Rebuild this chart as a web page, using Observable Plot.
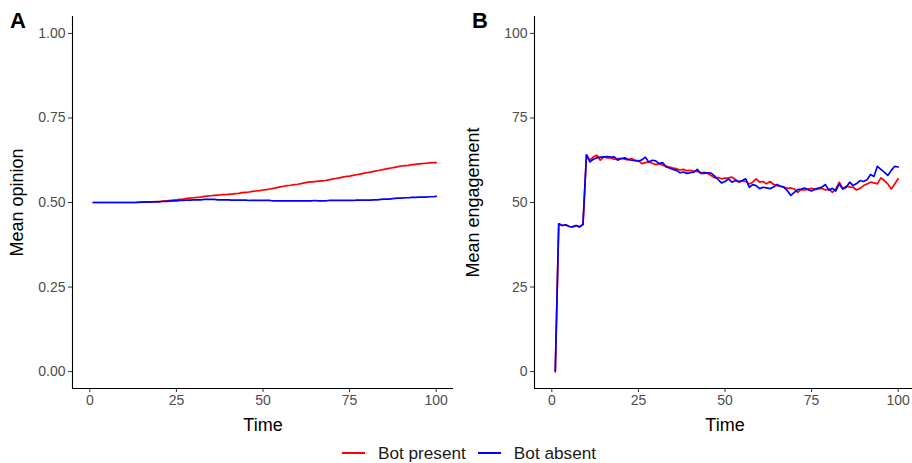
<!DOCTYPE html>
<html>
<head>
<meta charset="utf-8">
<script src="https://cdn.jsdelivr.net/npm/d3@7"></script>
<script src="https://cdn.jsdelivr.net/npm/@observablehq/plot@0.6"></script>
<style>
  html, body { margin:0; padding:0; background:#fff; overflow:hidden; }
  body { font-family: "Liberation Sans", Arial, sans-serif; }
  #wrap { position:relative; width:912px; height:463px; }
  #row { position:absolute; left:0; top:0; display:flex; width:915px; }
  .tag { position:absolute; font-weight:bold; font-size:22px; color:#000; top:8px; }
  #legend { position:absolute; left:13px; top:444px; width:912px; height:18px; line-height:17px; display:flex; justify-content:center; align-items:center; font-size:17.2px; color:#1a1a1a; }
  .sw { display:inline-block; width:23px; height:2px; margin:0 13px 0 0; }
  .item { display:flex; align-items:center; margin:0 6px; }
  svg g[aria-label="x-axis label"] text, svg g[aria-label="y-axis label"] text { font-size:18px; fill:#000; }
  svg g[aria-label="x-axis label"], svg g[aria-label="y-axis label"] { font-size:18px; fill:#000; }
</style>
</head>
<body>
<div id="wrap">
  <div id="row"></div>
  <div class="tag" style="left:10px">A</div>
  <div class="tag" style="left:472px">B</div>
  <div id="legend"></div>
</div>
<script>
// ---- data ----
const series = ["Bot present", "Bot absent"];
const colors = ["#ff0000", "#0000ff"];
const time = d3.range(1, 101);

const opinionPresent = [
  0.500,0.500,0.500,0.500,0.500,0.500,0.500,0.500,0.500,0.500,
  0.500,0.500,0.500,0.501,0.501,0.501,0.502,0.502,0.503,0.503,
  0.504,0.505,0.506,0.507,0.508,0.509,0.510,0.512,0.513,0.514,
  0.515,0.516,0.518,0.519,0.520,0.521,0.522,0.523,0.523,0.524,
  0.525,0.526,0.527,0.529,0.530,0.531,0.533,0.534,0.535,0.537,
  0.538,0.540,0.542,0.544,0.546,0.548,0.550,0.551,0.553,0.554,
  0.556,0.558,0.560,0.561,0.562,0.563,0.564,0.565,0.567,0.569,
  0.571,0.573,0.575,0.577,0.578,0.580,0.582,0.584,0.586,0.588,
  0.590,0.592,0.594,0.596,0.598,0.600,0.602,0.604,0.606,0.608,
  0.609,0.610,0.612,0.613,0.614,0.615,0.616,0.617,0.618,0.618
];
const opinionAbsent = [
  0.500,0.500,0.500,0.500,0.500,0.500,0.500,0.500,0.500,0.500,
  0.500,0.500,0.500,0.500,0.501,0.501,0.501,0.502,0.502,0.502,
  0.503,0.503,0.504,0.505,0.505,0.506,0.506,0.507,0.507,0.508,
  0.508,0.508,0.509,0.509,0.509,0.509,0.508,0.508,0.508,0.508,
  0.507,0.507,0.507,0.507,0.507,0.506,0.506,0.506,0.506,0.506,
  0.506,0.506,0.505,0.505,0.505,0.505,0.505,0.505,0.505,0.505,
  0.505,0.505,0.505,0.505,0.506,0.505,0.505,0.505,0.506,0.506,
  0.506,0.506,0.506,0.506,0.506,0.506,0.507,0.507,0.507,0.507,
  0.507,0.508,0.508,0.509,0.510,0.510,0.511,0.512,0.513,0.513,
  0.514,0.514,0.515,0.515,0.516,0.516,0.516,0.517,0.517,0.518
];
const engagementPresent = [
  0,43.7,43.2,43.4,42.9,42.8,43.2,42.8,43.5,64.1,
  62.5,63.5,64.0,62.5,63.5,63.2,63.2,62.8,63.0,63.0,
  62.8,62.6,63.0,62.5,62.4,61.5,61.8,62.0,61.6,61.2,
  61.5,61.0,60.8,60.5,60.2,60.0,59.6,59.8,59.4,59.5,
  59.2,59.2,58.8,58.9,58.6,58.0,57.3,57.4,57.0,57.2,
  57.3,57.5,56.8,56.0,56.4,56.2,55.5,56.0,57.0,56.0,
  56.2,55.5,56.2,55.4,55.0,54.8,54.6,54.2,54.3,54.0,
  53.0,53.8,53.7,54.0,54.2,53.8,54.0,54.2,53.7,54.0,
  53.0,54.0,56.0,54.0,54.8,54.6,54.5,53.7,54.2,55.0,
  55.5,56.0,55.8,55.5,57.3,56.5,55.5,54.0,55.5,57.0
];
const engagementAbsent = [
  0,43.7,43.2,43.4,42.9,42.8,43.2,42.8,43.5,64.1,
  62.0,62.8,63.2,63.4,63.5,63.6,63.4,63.5,62.5,63.0,
  63.2,62.8,62.5,62.4,62.2,62.6,63.4,62.0,62.5,62.3,
  61.5,61.8,60.5,60.2,59.8,59.5,58.8,59.0,58.6,58.8,
  59.0,59.8,58.6,58.6,58.8,58.7,57.8,56.8,55.8,56.2,
  57.0,56.0,56.5,56.2,56.5,57.0,54.5,55.3,55.0,54.1,
  54.5,54.3,54.1,54.6,55.3,54.8,54.5,53.5,52.1,53.0,
  53.8,54.0,54.3,53.8,53.4,54.0,54.3,54.6,55.3,53.6,
  54.2,53.4,55.5,54.0,54.5,56.0,55.0,55.6,56.5,56.2,
  56.7,58.3,57.7,60.7,59.8,59.0,58.0,59.5,60.7,60.5
];
const opinionTicks = [0, 0.25, 0.5, 0.75, 1];
const engagementTicks = [0, 25, 50, 75, 100];
const timeTicks = [0, 25, 50, 75, 100];

function rows(a, b) {
  return [
    ...time.map((t, i) => ({t, v: a[i], s: series[0]})),
    ...time.map((t, i) => ({t, v: b[i], s: series[1]}))
  ];
}

function panel({data, yDomain, yTicks, yFormat, yLabel, width, marginLeft, marginRight}) {
  return Plot.plot({
    width, height: 463,
    marginLeft, marginRight, marginTop: 16, marginBottom: 75,
    style: {fontFamily: "'Liberation Sans', Arial, sans-serif", fontSize: "14px", background: "#fff", overflow: "visible"},
    x: {domain: [-5, 105]},
    y: {domain: yDomain},
    color: {domain: series, range: colors},
    marks: [
      Plot.axisX({ticks: timeTicks, tickSize: 4, tickPadding: 3, color: "#4d4d4d", stroke: "#333",
        label: "Time", labelAnchor: "center", labelArrow: "none", labelOffset: 42}),
      Plot.axisY({ticks: yTicks, tickFormat: yFormat, tickSize: 4, tickPadding: 3, color: "#4d4d4d", stroke: "#333",
        label: yLabel, labelAnchor: "center", labelArrow: "none", labelOffset: marginLeft - 10}),
      Plot.ruleX([-5], {stroke: "#000", strokeWidth: 1.1}),
      Plot.ruleY([yDomain[0]], {stroke: "#000", strokeWidth: 1.1}),
      Plot.line(data, {x: "t", y: "v", z: "s", stroke: "s", strokeWidth: 1.7})
    ]
  });
}

const row = document.getElementById("row");
row.appendChild(panel({
  data: rows(opinionPresent, opinionAbsent),
  yDomain: [-0.05, 1.05], yTicks: opinionTicks, yFormat: d3.format(".2f"),
  yLabel: "Mean opinion", width: 456, marginLeft: 72, marginRight: 3
}));
row.appendChild(panel({
  data: rows(engagementPresent, engagementAbsent),
  yDomain: [-5, 105], yTicks: engagementTicks, yFormat: d3.format("d"),
  yLabel: "Mean engagement", width: 459, marginLeft: 78, marginRight: 0
}));

const legend = document.getElementById("legend");
series.forEach((s, i) => {
  const it = document.createElement("div");
  it.className = "item";
  const sw = document.createElement("span");
  sw.className = "sw";
  sw.style.background = colors[i];
  const tx = document.createElement("span");
  tx.textContent = s;
  it.appendChild(sw); it.appendChild(tx);
  legend.appendChild(it);
});
</script>
</body>
</html>
